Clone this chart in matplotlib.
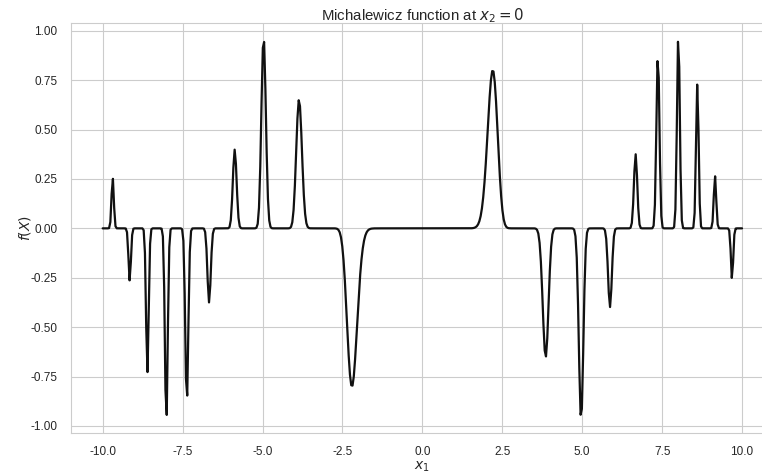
import numpy as np
import matplotlib
matplotlib.use("Agg")
import matplotlib.pyplot as plt
import seaborn as sns

# Michalewicz function evaluated along x1 with x2 fixed at 0
x1_min, x1_max, n_samples = -10.0, 10.0, 500
m_steep = 10
x2_fixed = 0.0
xtick_values = [-10.0, -7.5, -5.0, -2.5, 0.0, 2.5, 5.0, 7.5, 10.0]
ytick_values = [-1.00, -0.75, -0.50, -0.25, 0.00, 0.25, 0.50, 0.75, 1.00]

x1 = np.linspace(x1_min, x1_max, n_samples)
fx = (np.sin(x1) * np.sin(x1**2 / np.pi) ** (2 * m_steep)
      + np.sin(x2_fixed) * np.sin(2 * x2_fixed**2 / np.pi) ** (2 * m_steep))

sns.set_style("whitegrid")
plt.rcParams['font.family'] = ['Liberation Sans', 'DejaVu Sans']
plt.rcParams['axes.unicode_minus'] = False

fig = plt.figure(figsize=(7.62, 4.73), dpi=100)
ax = fig.add_axes([70.7/762, 1 - 433.3/473, 703.3/762, 410.6/473])
ax.plot(x1, fx, color='#111111', lw=1.6)
ax.set_xticks(xtick_values)
ax.set_xticklabels([f"{v:.1f}" for v in xtick_values], fontsize=8.5)
ax.set_yticks(ytick_values)
ax.set_yticklabels([f"{v:.2f}" for v in ytick_values], fontsize=8.5)
ax.tick_params(axis='both', pad=6)
ax.set_xlim(-11, 11)
ax.set_ylim(-1.037, 1.0405)
ax.set_xlabel(r"$x_1$", fontsize=10, labelpad=1)
ax.set_ylabel(r"$f(X)$", fontsize=10, labelpad=-2)
ax.set_title(r"Michalewicz function at $x_2 = 0$", fontsize=10.8, pad=2)
for s in ax.spines.values():
    s.set_color('0.8')
fig.savefig("out.png")
